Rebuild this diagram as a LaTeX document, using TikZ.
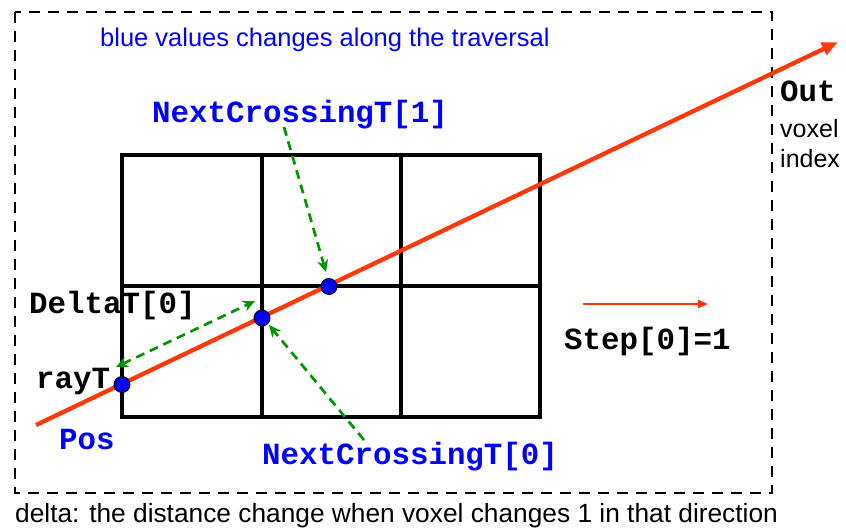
\documentclass[tikz,border=0pt]{standalone}
\usepackage{fontspec}
\setmainfont{Liberation Sans}
\newfontfamily\monof{Liberation Mono}
\usetikzlibrary{arrows.meta}
\definecolor{rayred}{RGB}{255,56,10}
\definecolor{lblue}{RGB}{0,0,255}
\definecolor{dgreen}{RGB}{0,150,0}
\tikzset{
  gridline/.style={line width=3.2pt, draw=black},
  frame/.style={line width=2.8pt, dash pattern=on 11pt off 8pt, draw=black},
  ray/.style={line width=4.3pt, draw=rayred, -{Triangle[length=16pt,width=13pt]}},
  steparrow/.style={line width=2.4pt, draw=rayred, -{Triangle[length=10pt,width=8pt]}},
  garrow/.style={line width=2.7pt, draw=dgreen, dash pattern=on 9pt off 6pt, -{Stealth[length=12pt,width=11pt]}},
  dot/.style={circle, fill=lblue, draw=black, line width=0.9pt, minimum size=16pt, inner sep=0pt},
  monolab/.style={font=\monof\bfseries\fontsize{30.8}{34}\selectfont, inner sep=0pt, anchor=base west},
  sanslab/.style={font=\fontsize{25.5}{30}\selectfont, inner sep=0pt, anchor=base west},
}
\begin{document}
\begin{tikzpicture}[x=1pt,y=-1pt]
\useasboundingbox (0,0) rectangle (846,530);
% frame
\draw[frame] (15,12) rectangle (772,493);
% grid
\coordinate (g00) at (122,155);
\coordinate (g11) at (540,417);
\draw[gridline] (g00) rectangle (g11);
\draw[gridline] (262,155) -- (262,417);
\draw[gridline] (401,155) -- (401,417);
\draw[gridline] (122,286) -- (540,286);
% ray
\coordinate (rs) at (36,425);
\coordinate (re) at (838,42);
\draw[ray] (rs) -- (re);
% dots
\node[dot] (d1) at (122,384.5) {};
\node[dot] (d2) at (262,318) {};
\node[dot] (d3) at (329,286.5) {};
% labels
\node[sanslab, text=lblue] (top) at (100,46) {blue values changes along the traversal};
\node[monolab, text=lblue] (nc1) at (152,122) {NextCrossingT[1]};
\node[monolab] (dt) at (29,313) {DeltaT[0]};
\node[monolab] (rayt) at (36,388) {rayT};
\node[monolab, text=lblue] (pos) at (59,449) {Pos};
\node[monolab, text=lblue] (nc0) at (262,464) {NextCrossingT[0]};
\node[monolab] (stp) at (564,349) {Step[0]=1};
\node[monolab] (out) at (780,101) {Out};
\node[sanslab, font=\fontsize{25}{28}\selectfont] (vox) at (780,137) {voxel};
\node[sanslab, font=\fontsize{25}{28}\selectfont] (idx) at (780,167) {index};
\node[sanslab, font=\fontsize{26.3}{30}\selectfont] (bot) at (15,522) {delta: the distance change when voxel changes 1 in that direction};
% step arrow
\coordinate (sa) at (583,304);
\coordinate (sb) at (708,304);
\draw[steparrow] (sa) -- (sb);
% green arrows
\coordinate (g1s) at (284,127);
\coordinate (g1e) at (326,272);
\draw[garrow] (g1s) -- (g1e);
\coordinate (g2a) at (116,367);
\coordinate (g2b) at (255,301);
\draw[garrow, {Stealth[length=12pt,width=11pt]}-{Stealth[length=12pt,width=11pt]}] (g2a) -- (g2b);
\coordinate (g3s) at (364,440);
\coordinate (g3e) at (269,325);
\draw[garrow] (g3s) -- (g3e);
\end{tikzpicture}
\end{document}
